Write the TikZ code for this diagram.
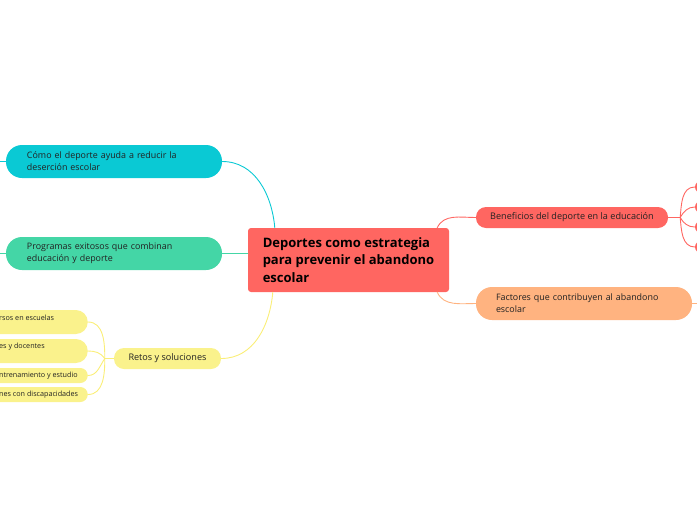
\documentclass[tikz,border=0pt]{standalone}
\usepackage{fontspec}
\setmainfont{Open Sans}
\usetikzlibrary{calc}
\definecolor{raizRojo}{RGB}{255,102,97}
\definecolor{ramaTurquesa}{RGB}{10,201,212}
\definecolor{ramaVerde}{RGB}{68,214,166}
\definecolor{ramaAmarillo}{RGB}{250,242,140}
\definecolor{lineaAmarillo}{RGB}{250,238,120}
\definecolor{ramaNaranja}{RGB}{255,179,128}
\definecolor{textoOscuro}{RGB}{34,34,34}
\tikzset{
  raiz/.style={fill=raizRojo,rounded corners=3pt,minimum width=201pt,minimum height=64pt,
    inner sep=0pt,align=left,text=black,font=\bfseries\fontsize{13}{17.5}\selectfont},
  rama/.style={rounded corners=16pt,minimum height=33pt,inner xsep=21pt,inner ysep=0pt,
    align=left,text=textoOscuro,font=\fontsize{8.9}{12}\selectfont},
  ramaCorta/.style={rounded corners=10pt,minimum height=21pt,inner sep=0pt,
    align=center,text=textoOscuro,font=\fontsize{9.1}{12}\selectfont},
  hoja/.style={fill=ramaAmarillo,rounded corners=#1,minimum width=130pt,inner sep=0pt,anchor=east},
  hojaTexto/.style={anchor=west,inner sep=0pt,text=textoOscuro,font=\fontsize{7.2}{8}\selectfont},
  punto/.style={circle,fill=raizRojo,minimum size=12pt,inner sep=0pt},
  conector/.style={line width=0.9pt,line cap=round}
}
\begin{document}
\begin{tikzpicture}[x=1pt,y=-1pt]
\useasboundingbox (0,0) rectangle (697,520);
\clip (0,0) rectangle (697,520);
% nodos principales
\node[raiz] (raiz) at (348.5,260) {Deportes como estrategia\\para prevenir el abandono\\escolar};
\node[rama,fill=ramaTurquesa,text width=174pt] (ayuda) at (114,161.5) {Cómo el deporte ayuda a reducir la\\deserción escolar};
\node[rama,fill=ramaVerde,text width=174pt] (programas) at (114,253.5) {Programas exitosos que combinan\\educación y deporte};
\node[ramaCorta,fill=ramaAmarillo,minimum width=107pt] (retos) at (167.5,358.5) {Retos y soluciones};
\node[ramaCorta,fill=raizRojo,minimum width=192pt] (beneficios) at (572,217.5) {Beneficios del deporte en la educación};
\node[rama,fill=ramaNaranja,inner xsep=20pt,text width=176pt] (factores) at (584,303.5) {Factores que contribuyen al abandono\\escolar};
% hojas amarillas
\node[hoja=12pt,minimum height=24pt] (h1) at (88,322) {};
\node[hoja=12pt,minimum height=24pt] (h2) at (88,351) {};
\node[hoja=7.5pt,minimum height=15pt] (h3) at (88,375.5) {};
\node[hoja=7.5pt,minimum height=15pt] (h4) at (88,394.5) {};
\node[hojaTexto] (t1) at (-1,318) {rsos en escuelas};
\node[hojaTexto] (t2) at (-1,347) {es y docentes};
\node[hojaTexto] (t3) at (-1,376) {ntrenamiento y estudio};
\node[hojaTexto] (t4) at (-1,395) {nes con discapacidades};
% puntos rojos
\foreach \y [count=\i] in {187,207,227,247}
  \node[punto] (b\i) at (701,\y) {};
% conectores
\coordinate (nodoR) at ($(retos.west)+(-9,0)$);
\coordinate (nodoB) at ($(beneficios.east)+(12,0)$);
\coordinate (salAyuda) at (-6,161.5);
\coordinate (salProgramas) at (-6,253.5);
\coordinate (salFactores) at (706,303.5);
\draw[conector,ramaTurquesa] (ayuda.east) to[out=0,in=95] ([xshift=27pt]raiz.north west);
\draw[conector,ramaTurquesa] (ayuda.west) -- (salAyuda);
\draw[conector,ramaVerde] (programas.east) -- (programas.east -| raiz.west);
\draw[conector,ramaVerde] (programas.west) -- (salProgramas);
\draw[conector,lineaAmarillo] ([xshift=25pt]raiz.south west) to[out=-95,in=0] (retos.east);
\draw[conector,raizRojo] ([xshift=-12pt]raiz.north east) to[out=65,in=180] (beneficios.west);
\draw[conector,ramaNaranja] ([xshift=-12pt]raiz.south east) to[out=-65,in=180] (factores.west);
\draw[conector,ramaNaranja] (factores.east) -- (salFactores);
\draw[conector,lineaAmarillo] (retos.west) -- (nodoR);
\draw[conector,lineaAmarillo] (nodoR) to[out=90,in=0] (h1.east);
\draw[conector,lineaAmarillo] (nodoR) to[out=125,in=0] (h2.east);
\draw[conector,lineaAmarillo] (nodoR) to[out=-125,in=0] (h3.east);
\draw[conector,lineaAmarillo] (nodoR) to[out=-90,in=0] (h4.east);
\draw[conector,raizRojo] (beneficios.east) -- (nodoB);
\draw[conector,raizRojo] (nodoB) to[out=85,in=180] (b1.west);
\draw[conector,raizRojo] (nodoB) to[out=60,in=180] (b2.west);
\draw[conector,raizRojo] (nodoB) to[out=-60,in=180] (b3.west);
\draw[conector,raizRojo] (nodoB) to[out=-85,in=180] (b4.west);
\end{tikzpicture}
\end{document}
